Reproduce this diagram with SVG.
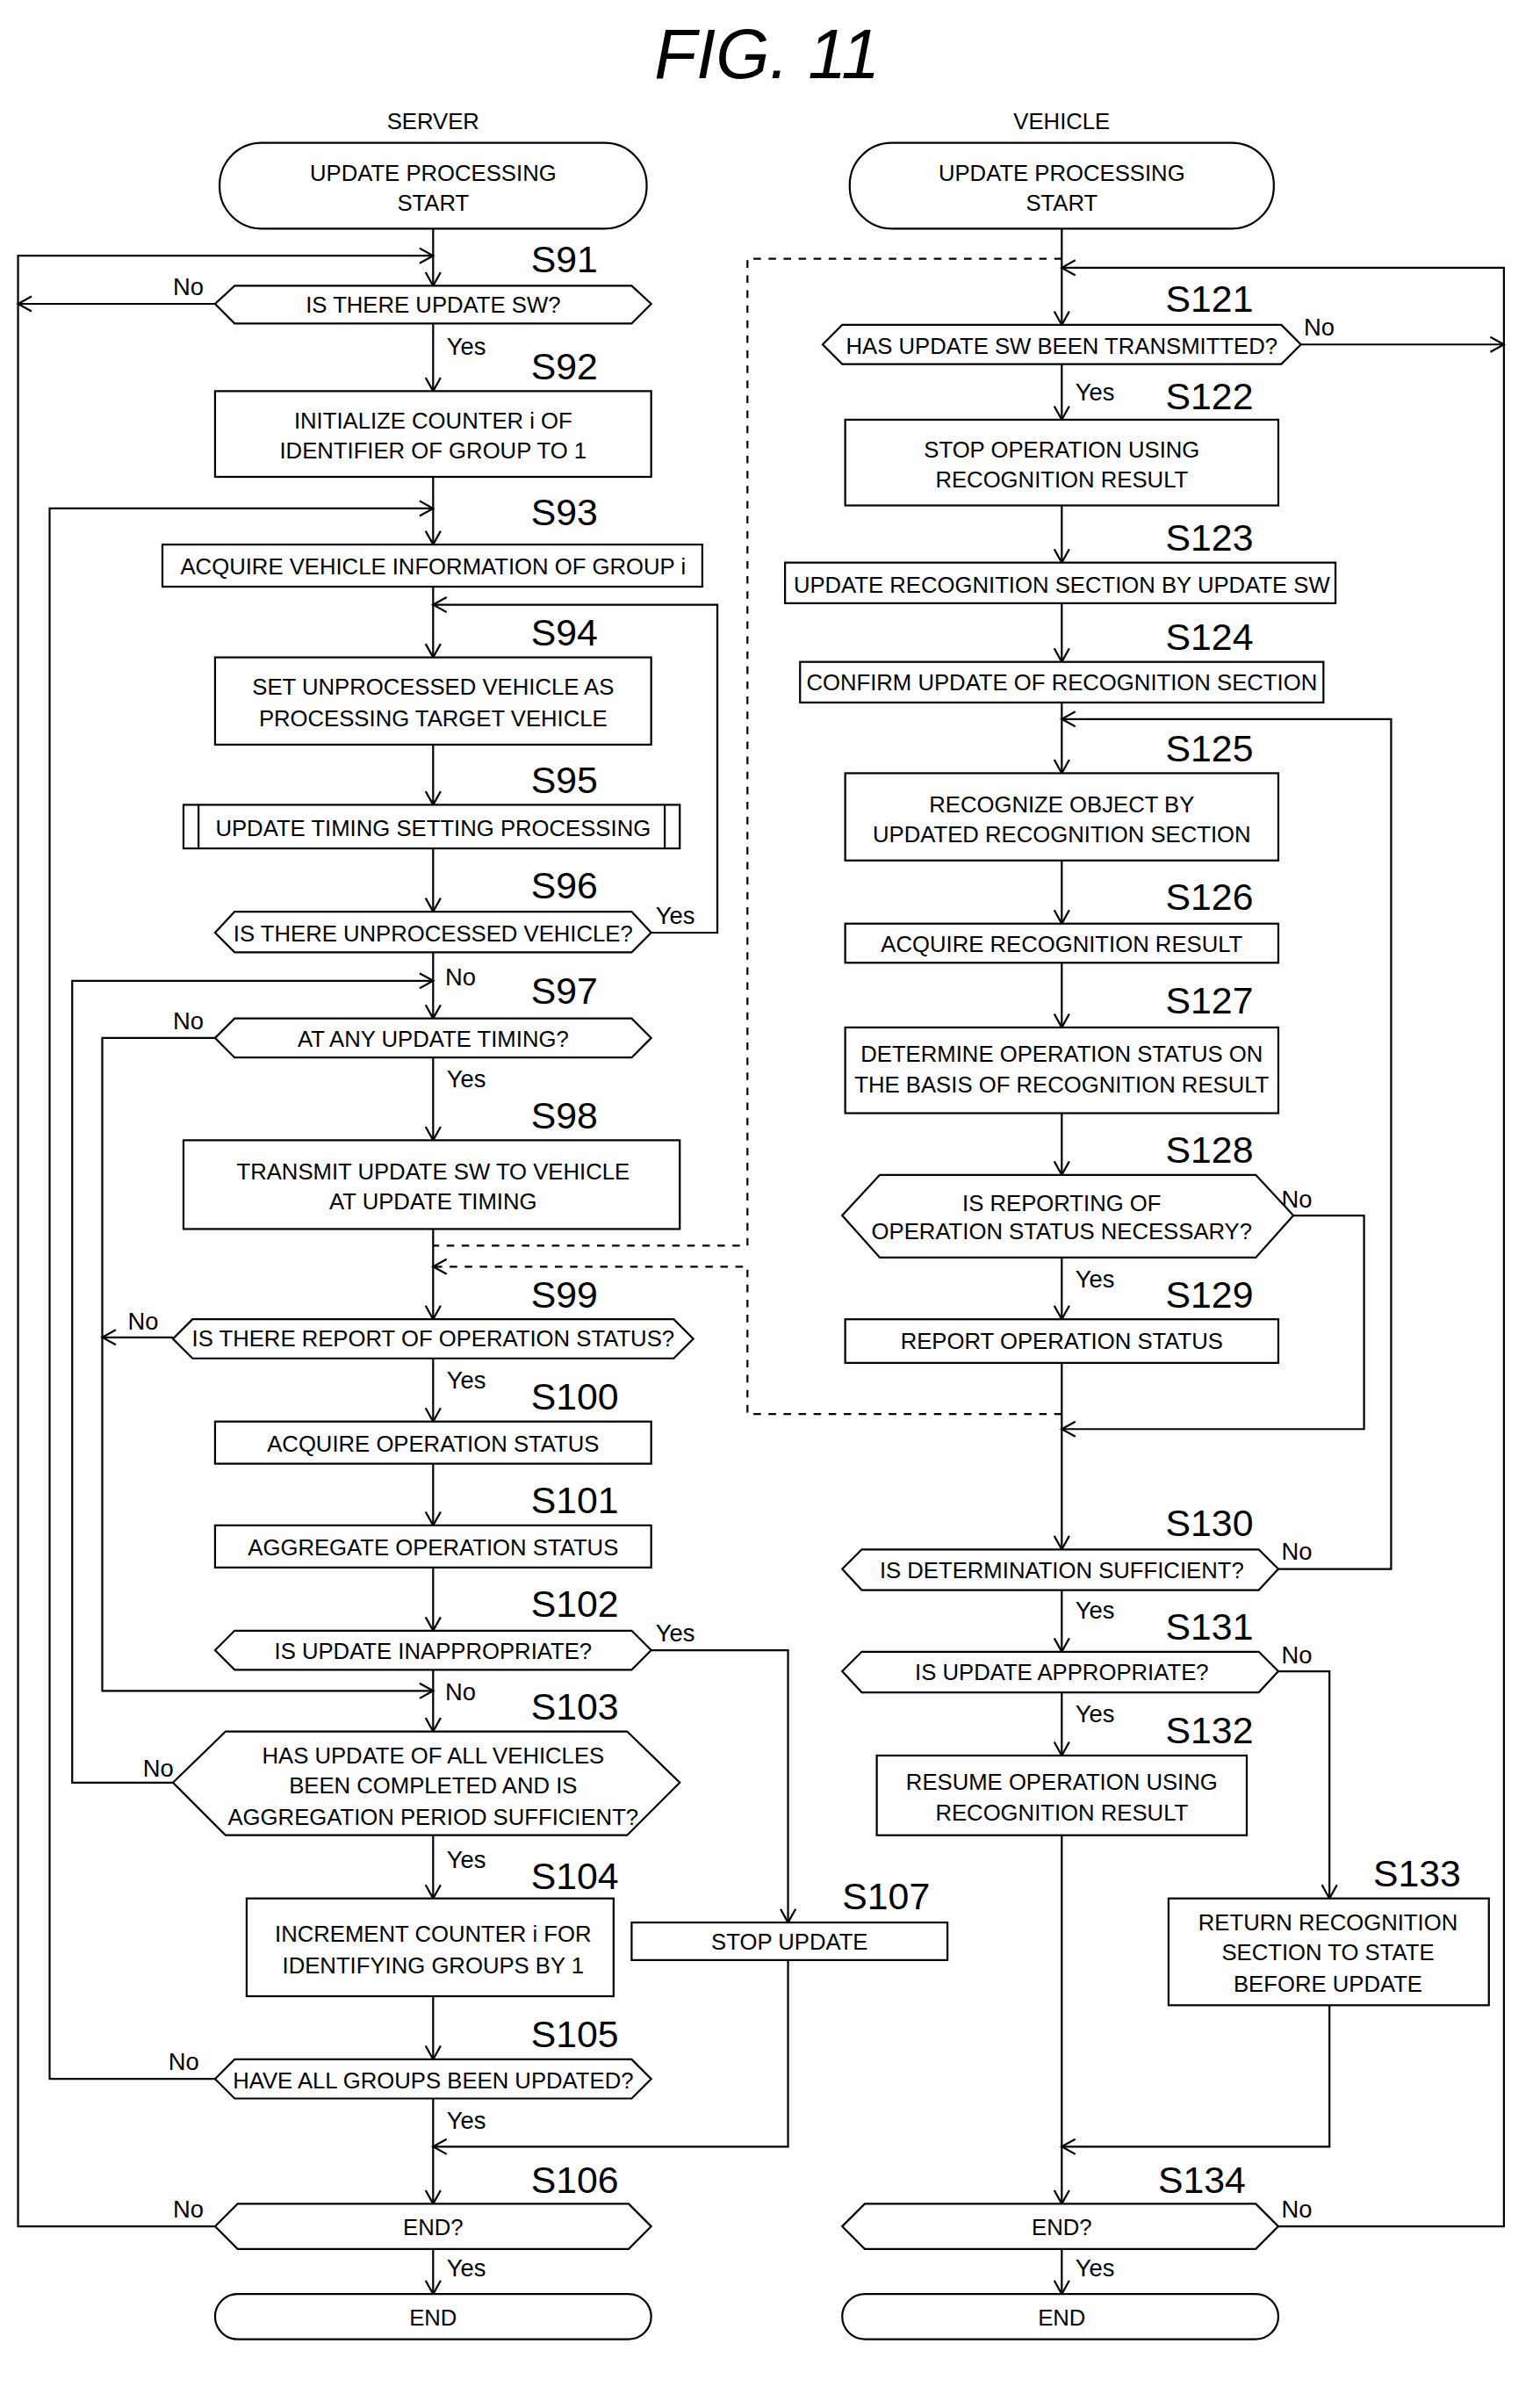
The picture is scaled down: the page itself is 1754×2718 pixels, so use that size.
<svg xmlns="http://www.w3.org/2000/svg" width="1754" height="2718" viewBox="0 0 1754 2718">
<style>
.s{fill:#fff;stroke:#000;stroke-width:1.3}
.l{fill:none;stroke:#000;stroke-width:1.3}
.d{fill:none;stroke:#000;stroke-width:1.3;stroke-dasharray:5,5}
text{font-family:"Liberation Sans",Arial,sans-serif;font-size:15px;fill:#000;text-anchor:middle}
.lb{font-size:25px;text-anchor:start}
.yn{font-size:16px;text-anchor:start}
.t{font-size:46px;font-style:italic}
</style>
<defs>
<marker id="a" markerWidth="12" markerHeight="12" refX="10" refY="6" orient="auto" markerUnits="userSpaceOnUse">
<path d="M1,1 L10,6 L1,11" fill="none" stroke="#000" stroke-width="1.3"/>
</marker>
</defs>
<rect width="1754" height="2718" fill="#fff"/>
<g transform="scale(1.7129)">
<text class="t" x="510" y="52">FIG. 11</text>
<text x="288" y="86">SERVER</text>
<text x="706" y="86">VEHICLE</text>

<g id="connectors">
<!-- server main -->
<path class="l" marker-end="url(#a)" d="M288,152 V190"/>
<path class="l" marker-end="url(#a)" d="M288,215 V260"/>
<path class="l" marker-end="url(#a)" d="M288,317 V362"/>
<path class="l" marker-end="url(#a)" d="M288,390 V437"/>
<path class="l" marker-end="url(#a)" d="M288,495 V535"/>
<path class="l" marker-end="url(#a)" d="M288,564 V606"/>
<path class="l" marker-end="url(#a)" d="M288,633 V677"/>
<path class="l" marker-end="url(#a)" d="M288,703 V758"/>
<path class="l" marker-end="url(#a)" d="M288,817 V877"/>
<path class="l" marker-end="url(#a)" d="M288,903 V945"/>
<path class="l" marker-end="url(#a)" d="M288,973 V1014"/>
<path class="l" marker-end="url(#a)" d="M288,1042 V1084"/>
<path class="l" marker-end="url(#a)" d="M288,1110 V1151"/>
<path class="l" marker-end="url(#a)" d="M288,1220 V1262"/>
<path class="l" marker-end="url(#a)" d="M288,1327 V1369"/>
<path class="l" marker-end="url(#a)" d="M288,1395 V1465"/>
<path class="l" marker-end="url(#a)" d="M288,1495 V1525"/>
<!-- server loops -->
<path class="l" marker-end="url(#a)" d="M143,1480 H12 V170 H288"/>
<path class="l" marker-end="url(#a)" d="M143,202 H12"/>
<path class="l" marker-end="url(#a)" d="M143,1382 H33 V338 H288"/>
<path class="l" marker-end="url(#a)" d="M433,620 H477 V402 H288"/>
<path class="l" marker-end="url(#a)" d="M115,1185 H48 V652 H288"/>
<path class="l" marker-end="url(#a)" d="M143,690 H68 V1124 H288"/>
<path class="l" marker-end="url(#a)" d="M115,889 H68"/>
<path class="l" marker-end="url(#a)" d="M433,1097 H524 V1278"/>
<path class="l" marker-end="url(#a)" d="M524,1303 V1427 H288"/>
<!-- dashed -->
<path class="d" d="M706,172 H497 V828 H288"/>
<path class="d" marker-end="url(#a)" d="M706,940 H497 V842 H288"/>
<!-- vehicle main -->
<path class="l" marker-end="url(#a)" d="M706,152 V216"/>
<path class="l" marker-end="url(#a)" d="M706,242 V279"/>
<path class="l" marker-end="url(#a)" d="M706,336 V374"/>
<path class="l" marker-end="url(#a)" d="M706,401 V440"/>
<path class="l" marker-end="url(#a)" d="M706,467 V514"/>
<path class="l" marker-end="url(#a)" d="M706,572 V614"/>
<path class="l" marker-end="url(#a)" d="M706,640 V683"/>
<path class="l" marker-end="url(#a)" d="M706,740 V781"/>
<path class="l" marker-end="url(#a)" d="M706,836 V877"/>
<path class="l" marker-end="url(#a)" d="M706,906 V1030"/>
<path class="l" marker-end="url(#a)" d="M706,1057 V1098"/>
<path class="l" marker-end="url(#a)" d="M706,1125 V1167"/>
<path class="l" marker-end="url(#a)" d="M706,1220 V1465"/>
<path class="l" marker-end="url(#a)" d="M706,1495 V1525"/>
<!-- vehicle loops -->
<path class="l" marker-end="url(#a)" d="M850,1480 H1000 V178 H706"/>
<path class="l" marker-end="url(#a)" d="M865,229 H1000"/>
<path class="l" marker-end="url(#a)" d="M860,808 H907 V950 H706"/>
<path class="l" marker-end="url(#a)" d="M850,1043 H925 V478 H706"/>
<path class="l" marker-end="url(#a)" d="M850,1111 H884 V1262"/>
<path class="l" marker-end="url(#a)" d="M884,1333 V1427 H706"/>
<!-- labels -->
<text class="yn" x="115" y="196">No</text>
<text class="yn" x="297" y="236">Yes</text>
<text class="yn" x="436" y="614">Yes</text>
<text class="yn" x="296" y="655">No</text>
<text class="yn" x="115" y="684">No</text>
<text class="yn" x="297" y="723">Yes</text>
<text class="yn" x="85" y="884">No</text>
<text class="yn" x="297" y="923">Yes</text>
<text class="yn" x="436" y="1091">Yes</text>
<text class="yn" x="296" y="1130">No</text>
<text class="yn" x="95" y="1181">No</text>
<text class="yn" x="297" y="1242">Yes</text>
<text class="yn" x="112" y="1376">No</text>
<text class="yn" x="297" y="1415">Yes</text>
<text class="yn" x="115" y="1474">No</text>
<text class="yn" x="297" y="1513">Yes</text>
<text class="yn" x="867" y="223">No</text>
<text class="yn" x="715" y="266">Yes</text>
<text class="yn" x="852" y="803">No</text>
<text class="yn" x="715" y="856">Yes</text>
<text class="yn" x="852" y="1037">No</text>
<text class="yn" x="715" y="1076">Yes</text>
<text class="yn" x="852" y="1106">No</text>
<text class="yn" x="715" y="1145">Yes</text>
<text class="yn" x="852" y="1474">No</text>
<text class="yn" x="715" y="1513">Yes</text>
</g>

<g id="s_start"><rect class="s" x="146" y="95" width="284" height="57" rx="28"/><text x="288" y="120">UPDATE PROCESSING</text><text x="288" y="140">START</text></g>
<g id="S91"><text class="lb" x="353" y="181">S91</text><polygon class="s" points="143,202 156,190 420,190 433,202 420,215 156,215"/><text x="288" y="208">IS THERE UPDATE SW?</text></g>
<g id="S92"><text class="lb" x="353" y="252">S92</text><rect class="s" x="143" y="260" width="290" height="57"/><text x="288" y="285">INITIALIZE COUNTER i OF</text><text x="288" y="305">IDENTIFIER OF GROUP TO 1</text></g>
<g id="S93"><text class="lb" x="353" y="349">S93</text><rect class="s" x="108" y="362" width="359" height="28"/><text x="288" y="382">ACQUIRE VEHICLE INFORMATION OF GROUP i</text></g>
<g id="S94"><text class="lb" x="353" y="429">S94</text><rect class="s" x="143" y="437" width="290" height="58"/><text x="288" y="462">SET UNPROCESSED VEHICLE AS</text><text x="288" y="483">PROCESSING TARGET VEHICLE</text></g>
<g id="S95"><text class="lb" x="353" y="527">S95</text><rect class="s" x="122" y="535" width="330" height="29"/><line class="l" x1="132" y1="535" x2="132" y2="564"/><line class="l" x1="442" y1="535" x2="442" y2="564"/><text x="288" y="556">UPDATE TIMING SETTING PROCESSING</text></g>
<g id="S96"><text class="lb" x="353" y="597">S96</text><polygon class="s" points="143,620 156,606 420,606 433,620 420,633 156,633"/><text x="288" y="626">IS THERE UNPROCESSED VEHICLE?</text></g>
<g id="S97"><text class="lb" x="353" y="667">S97</text><polygon class="s" points="143,690 156,677 420,677 433,690 420,703 156,703"/><text x="288" y="696">AT ANY UPDATE TIMING?</text></g>
<g id="S98"><text class="lb" x="353" y="750">S98</text><rect class="s" x="122" y="758" width="330" height="59"/><text x="288" y="784">TRANSMIT UPDATE SW TO VEHICLE</text><text x="288" y="804">AT UPDATE TIMING</text></g>
<g id="S99"><text class="lb" x="353" y="869">S99</text><polygon class="s" points="115,890 128,877 448,877 461,890 448,903 128,903"/><text x="288" y="895">IS THERE REPORT OF OPERATION STATUS?</text></g>
<g id="S100"><text class="lb" x="353" y="937">S100</text><rect class="s" x="143" y="945" width="290" height="28"/><text x="288" y="965">ACQUIRE OPERATION STATUS</text></g>
<g id="S101"><text class="lb" x="353" y="1006">S101</text><rect class="s" x="143" y="1014" width="290" height="28"/><text x="288" y="1034">AGGREGATE OPERATION STATUS</text></g>
<g id="S102"><text class="lb" x="353" y="1075">S102</text><polygon class="s" points="143,1097 156,1084 420,1084 433,1097 420,1110 156,1110"/><text x="288" y="1103">IS UPDATE INAPPROPRIATE?</text></g>
<g id="S103"><text class="lb" x="353" y="1143">S103</text><polygon class="s" points="115,1185 150,1151 417,1151 452,1185 417,1220 150,1220"/><text x="288" y="1172">HAS UPDATE OF ALL VEHICLES</text><text x="288" y="1192">BEEN COMPLETED AND IS</text><text x="288" y="1213">AGGREGATION PERIOD SUFFICIENT?</text></g>
<g id="S104"><text class="lb" x="353" y="1256">S104</text><rect class="s" x="164" y="1262" width="244" height="65"/><text x="288" y="1291">INCREMENT COUNTER i FOR</text><text x="288" y="1312">IDENTIFYING GROUPS BY 1</text></g>
<g id="S107"><text class="lb" x="560" y="1269">S107</text><rect class="s" x="420" y="1278" width="210" height="25"/><text x="525" y="1296">STOP UPDATE</text></g>
<g id="S105"><text class="lb" x="353" y="1361">S105</text><polygon class="s" points="143,1382 156,1369 420,1369 433,1382 420,1395 156,1395"/><text x="288" y="1388">HAVE ALL GROUPS BEEN UPDATED?</text></g>
<g id="S106"><text class="lb" x="353" y="1458">S106</text><polygon class="s" points="143,1480 158,1465 418,1465 433,1480 418,1495 158,1495"/><text x="288" y="1486">END?</text></g>
<g id="s_end"><rect class="s" x="143" y="1525" width="290" height="30" rx="15"/><text x="288" y="1546">END</text></g>

<g id="v_start"><rect class="s" x="565" y="95" width="282" height="57" rx="28"/><text x="706" y="120">UPDATE PROCESSING</text><text x="706" y="140">START</text></g>
<g id="S121"><text class="lb" x="775" y="207">S121</text><polygon class="s" points="547,229 560,216 852,216 865,229 852,242 560,242"/><text x="706" y="235">HAS UPDATE SW BEEN TRANSMITTED?</text></g>
<g id="S122"><text class="lb" x="775" y="272">S122</text><rect class="s" x="562" y="279" width="288" height="57"/><text x="706" y="304">STOP OPERATION USING</text><text x="706" y="324">RECOGNITION RESULT</text></g>
<g id="S123"><text class="lb" x="775" y="366">S123</text><rect class="s" x="522" y="374" width="366" height="27"/><text x="706" y="394">UPDATE RECOGNITION SECTION BY UPDATE SW</text></g>
<g id="S124"><text class="lb" x="775" y="432">S124</text><rect class="s" x="532" y="440" width="348" height="27"/><text x="706" y="459">CONFIRM UPDATE OF RECOGNITION SECTION</text></g>
<g id="S125"><text class="lb" x="775" y="506">S125</text><rect class="s" x="562" y="514" width="288" height="58"/><text x="706" y="540">RECOGNIZE OBJECT BY</text><text x="706" y="560">UPDATED RECOGNITION SECTION</text></g>
<g id="S126"><text class="lb" x="775" y="605">S126</text><rect class="s" x="562" y="614" width="288" height="26"/><text x="706" y="633">ACQUIRE RECOGNITION RESULT</text></g>
<g id="S127"><text class="lb" x="775" y="674">S127</text><rect class="s" x="562" y="683" width="288" height="57"/><text x="706" y="706">DETERMINE OPERATION STATUS ON</text><text x="706" y="726">THE BASIS OF RECOGNITION RESULT</text></g>
<g id="S128"><text class="lb" x="775" y="773">S128</text><polygon class="s" points="560,808 585,781 835,781 860,808 835,836 585,836"/><text x="706" y="805">IS REPORTING OF</text><text x="706" y="824">OPERATION STATUS NECESSARY?</text></g>
<g id="S129"><text class="lb" x="775" y="869">S129</text><rect class="s" x="562" y="877" width="288" height="29"/><text x="706" y="897">REPORT OPERATION STATUS</text></g>
<g id="S130"><text class="lb" x="775" y="1021">S130</text><polygon class="s" points="560,1043 573,1030 837,1030 850,1043 837,1057 573,1057"/><text x="706" y="1049">IS DETERMINATION SUFFICIENT?</text></g>
<g id="S131"><text class="lb" x="775" y="1090">S131</text><polygon class="s" points="560,1111 573,1098 837,1098 850,1111 837,1125 573,1125"/><text x="706" y="1117">IS UPDATE APPROPRIATE?</text></g>
<g id="S132"><text class="lb" x="775" y="1159">S132</text><rect class="s" x="583" y="1167" width="246" height="53"/><text x="706" y="1190">RESUME OPERATION USING</text><text x="706" y="1210">RECOGNITION RESULT</text></g>
<g id="S133"><text class="lb" x="913" y="1254">S133</text><rect class="s" x="777" y="1262" width="213" height="71"/><text x="883" y="1283">RETURN RECOGNITION</text><text x="883" y="1303">SECTION TO STATE</text><text x="883" y="1324">BEFORE UPDATE</text></g>
<g id="S134"><text class="lb" x="770" y="1458">S134</text><polygon class="s" points="560,1480 575,1465 835,1465 850,1480 835,1495 575,1495"/><text x="706" y="1486">END?</text></g>
<g id="v_end"><rect class="s" x="560" y="1525" width="290" height="30" rx="15"/><text x="706" y="1546">END</text></g>
</g>
</svg>
